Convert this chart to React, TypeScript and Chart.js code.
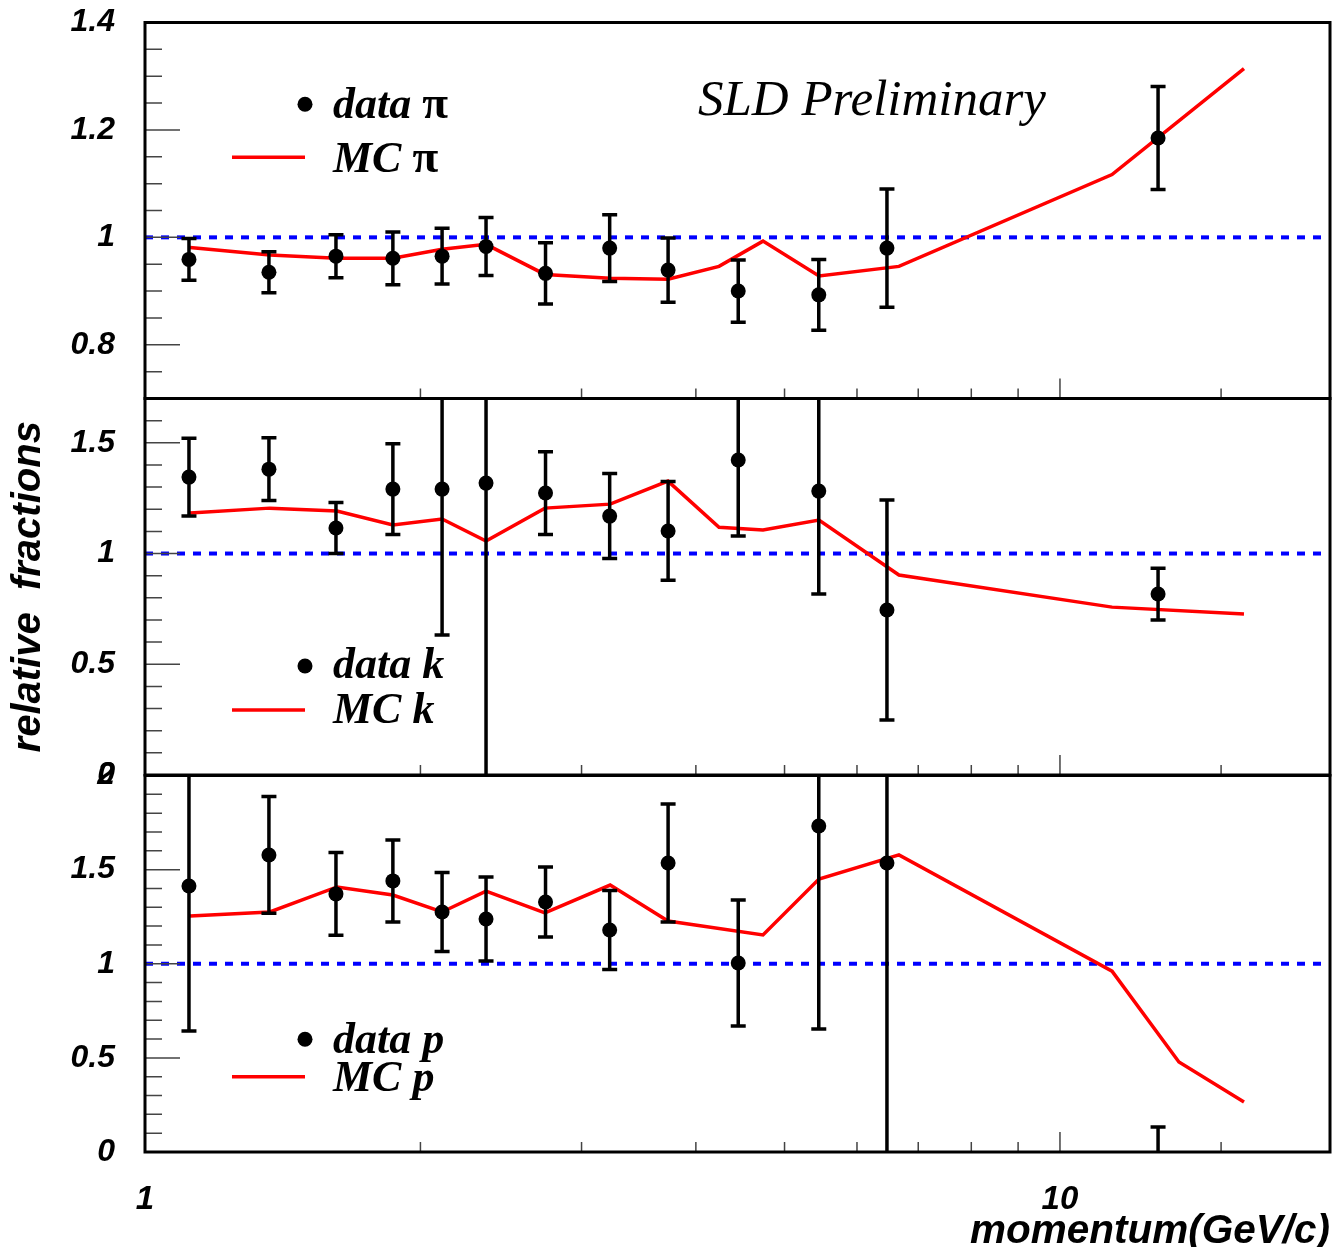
import React, { useEffect, useRef } from 'react';
import { Chart, registerables } from 'chart.js';

Chart.register(...registerables);

const W = 1335;
const H = 1247;
const X_MIN = 1;
const X_MAX = 19.73;

// ---- data ----
const dataMomentum = [1.117, 1.366, 1.617, 1.866, 2.112, 2.359, 2.74, 3.22, 3.73, 4.45, 5.45, 6.47, 12.8];
const mcMomentumPiK = [1.12, 1.369, 1.621, 1.866, 2.112, 2.359, 2.736, 3.224, 3.729, 4.24, 4.736, 5.453, 6.668, 11.4, 15.89];
const mcMomentumP = [1.12, 1.369, 1.621, 1.866, 2.112, 2.359, 2.736, 3.224, 3.729, 4.736, 5.453, 6.668, 11.4, 13.49, 15.89];

const piData = [0.959, 0.935, 0.965, 0.961, 0.965, 0.983, 0.933, 0.98, 0.939, 0.9, 0.893, 0.98, 1.185];
const piErr = [0.039, 0.038, 0.04, 0.049, 0.052, 0.054, 0.057, 0.062, 0.06, 0.058, 0.066, 0.11, 0.096];
const piMC = [0.981, 0.967, 0.961, 0.961, 0.978, 0.987, 0.931, 0.924, 0.922, 0.946, 0.993, 0.928, 0.946, 1.117, 1.314];

const kData = [1.345, 1.381, 1.115, 1.291, 1.291, 1.318, 1.273, 1.169, 1.102, 1.422, 1.282, 0.745, 0.817];
const kErr = [0.176, 0.142, 0.115, 0.205, 0.659, 1.5, 0.187, 0.192, 0.223, 0.343, 0.465, 0.497, 0.117];
const kMC = [1.183, 1.205, 1.192, 1.129, 1.156, 1.056, 1.205, 1.223, 1.327, 1.119, 1.106, 1.151, 0.903, 0.758, 0.727];

const pData = [1.413, 1.578, 1.371, 1.44, 1.275, 1.238, 1.328, 1.179, 1.535, 1.004, 1.732, 1.535, -0.1];
const pErr = [0.77, 0.31, 0.22, 0.218, 0.21, 0.223, 0.186, 0.21, 0.313, 0.335, 1.079, 2.0, 0.233];
const pMC = [1.254, 1.275, 1.408, 1.365, 1.275, 1.386, 1.27, 1.418, 1.227, 1.153, 1.45, 1.578, 0.961, 0.478, 0.266];

const unityLine = [1, 1];

const piMajorTicks = [0.8, 1, 1.2, 1.4];
const kMajorTicks = [0, 0.5, 1, 1.5];
const pMajorTicks = [0, 0.5, 1, 1.5, 2];
const xLabelTicks = [1, 10];

// ---- layout / styling of the three panels ----
const PLOT_LEFT = 145;
const PLOT_RIGHT = 1330;

type Panel = {
  top: number;
  bottom: number;
  yMin: number;
  yMax: number;
  minorStep: number;
  majors: number[];
  values: number[];
  errors: number[];
  mcX: number[];
  mc: number[];
  dataLabel: string;
  mcLabel: string;
  legend: { dotY: number; dataBase: number; lineY: number; mcBase: number };
  showX: boolean;
  xAxisHeight: number;
  yTitle: boolean;
  note?: boolean;
};

const panels: Panel[] = [
  {
    top: 22.5, bottom: 398.5, yMin: 0.7, yMax: 1.4, minorStep: 0.05, majors: piMajorTicks,
    values: piData, errors: piErr, mcX: mcMomentumPiK, mc: piMC,
    dataLabel: 'data π', mcLabel: 'MC π',
    legend: { dotY: 104.3, dataBase: 118.3, lineY: 157.3, mcBase: 171.7 },
    showX: false, xAxisHeight: 30, yTitle: false, note: true,
  },
  {
    top: 398.5, bottom: 775, yMin: 0, yMax: 1.7, minorStep: 0.1, majors: kMajorTicks,
    values: kData, errors: kErr, mcX: mcMomentumPiK, mc: kMC,
    dataLabel: 'data k', mcLabel: 'MC k',
    legend: { dotY: 666, dataBase: 678.3, lineY: 710, mcBase: 723.3 },
    showX: false, xAxisHeight: 30, yTitle: true,
  },
  {
    top: 775.5, bottom: 1152, yMin: 0, yMax: 2, minorStep: 0.1, majors: pMajorTicks,
    values: pData, errors: pErr, mcX: mcMomentumP, mc: pMC,
    dataLabel: 'data p', mcLabel: 'MC p',
    legend: { dotY: 1039.3, dataBase: 1052.7, lineY: 1076.7, mcBase: 1090.7 },
    showX: true, xAxisHeight: 95, yTitle: false,
  },
];

const sansBoldItalic = (size: number) => ({ family: '"Liberation Sans", Arial, sans-serif', size, style: 'italic' as const, weight: 'bold' as const });

const isMajor = (v: number, majors: number[]) => majors.some((m) => Math.abs(m - v) < 1e-6);

const zeroPadding = (s: any) => {
  s.paddingTop = 0;
  s.paddingBottom = 0;
  s.paddingLeft = 0;
  s.paddingRight = 0;
};

function makeDecoPlugin(p: Panel) {
  return {
    id: 'panelDeco',
    beforeDatasetDraw(chart: any, args: any) {
      if (args.index !== 0) return;
      const { ctx, chartArea: ca } = chart;
      const xs = chart.scales.x;
      const ys = chart.scales.y;
      const ds = chart.data.datasets[0];
      ctx.save();
      ctx.beginPath();
      ctx.rect(ca.left, ca.top, ca.right - ca.left, ca.bottom - ca.top);
      ctx.clip();
      ctx.strokeStyle = '#000';
      ctx.lineWidth = 3.5;
      ds.data.forEach((pt: any, i: number) => {
        const e = p.errors[i];
        const px = xs.getPixelForValue(pt.x);
        const yUp = ys.getPixelForValue(pt.y + e);
        const yLo = ys.getPixelForValue(pt.y - e);
        ctx.beginPath();
        ctx.moveTo(px, yUp);
        ctx.lineTo(px, yLo);
        ctx.moveTo(px - 7.5, yUp);
        ctx.lineTo(px + 7.5, yUp);
        ctx.moveTo(px - 7.5, yLo);
        ctx.lineTo(px + 7.5, yLo);
        ctx.stroke();
      });
      ctx.restore();
    },
    afterDatasetsDraw(chart: any) {
      const { ctx, chartArea: ca } = chart;
      const xs = chart.scales.x;
      const ys = chart.scales.y;
      ctx.save();
      ctx.strokeStyle = '#444';
      ctx.lineWidth = 1.5;
      ctx.beginPath();
      ys.ticks.forEach((t: any) => {
        const py = ys.getPixelForValue(t.value);
        const len = isMajor(t.value, p.majors) ? 35 : 17;
        ctx.moveTo(ca.left, py);
        ctx.lineTo(ca.left + len, py);
      });
      xs.ticks.forEach((t: any) => {
        const px = xs.getPixelForValue(t.value);
        if (px <= ca.left + 1 || px >= ca.right - 1) return;
        const lg = Math.log10(t.value);
        const len = Math.abs(lg - Math.round(lg)) < 1e-6 ? 20 : 10;
        ctx.moveTo(px, ca.bottom);
        ctx.lineTo(px, ca.bottom - len);
      });
      ctx.stroke();
      ctx.strokeStyle = '#000';
      ctx.lineWidth = 3;
      ctx.strokeRect(ca.left, ca.top, ca.right - ca.left, ca.bottom - ca.top);
      ctx.restore();
    },
    afterDraw(chart: any) {
      const { ctx } = chart;
      const dsData = chart.data.datasets[0];
      const dsMC = chart.data.datasets[1];
      const L = p.legend;
      ctx.save();
      ctx.fillStyle = dsData.pointBackgroundColor;
      ctx.beginPath();
      ctx.arc(305, L.dotY, 7.5, 0, Math.PI * 2);
      ctx.fill();
      ctx.strokeStyle = dsMC.borderColor;
      ctx.lineWidth = 3.5;
      ctx.beginPath();
      ctx.moveTo(232, L.lineY);
      ctx.lineTo(305, L.lineY);
      ctx.stroke();
      const drawLabel = (text: string, x: number, base: number) => {
        ctx.fillStyle = '#000';
        ctx.textBaseline = 'alphabetic';
        ctx.textAlign = 'left';
        const last = text.slice(-1);
        if (last === 'π') {
          const head = text.slice(0, -1);
          ctx.font = 'italic bold 44px "Liberation Serif", "Times New Roman", serif';
          ctx.fillText(head, x, base);
          const w = ctx.measureText(head).width;
          ctx.font = 'bold 47px "Liberation Serif", "Times New Roman", serif';
          ctx.fillText(last, x + w, base);
        } else {
          ctx.font = 'italic bold 44px "Liberation Serif", "Times New Roman", serif';
          ctx.fillText(text, x, base);
        }
      };
      drawLabel(dsData.label, 333, L.dataBase);
      drawLabel(dsMC.label, 333, L.mcBase);
      if (p.note) {
        ctx.fillStyle = '#000';
        ctx.font = 'italic 51px "Liberation Serif", "Times New Roman", serif';
        ctx.textAlign = 'left';
        ctx.textBaseline = 'alphabetic';
        ctx.fillText('SLD Preliminary', 698, 115);
      }
      ctx.restore();
    },
  };
}

function buildConfig(p: Panel): any {
  return {
    type: 'scatter',
    data: {
      datasets: [
        {
          label: p.dataLabel,
          data: dataMomentum.map((x, i) => ({ x, y: p.values[i] })),
          showLine: false,
          pointRadius: 7.5,
          pointHoverRadius: 7.5,
          pointBackgroundColor: '#000000',
          pointBorderWidth: 0,
          clip: 0,
        },
        {
          label: p.mcLabel,
          data: p.mcX.map((x, i) => ({ x, y: p.mc[i] })),
          showLine: true,
          borderColor: '#ff0000',
          borderWidth: 3.5,
          pointRadius: 0,
          tension: 0,
          fill: false,
        },
        {
          label: 'unity',
          data: [
            { x: X_MIN, y: unityLine[0] },
            { x: X_MAX, y: unityLine[1] },
          ],
          showLine: true,
          borderColor: '#0000ff',
          borderWidth: 4,
          borderDash: [8, 8],
          pointRadius: 0,
          fill: false,
        },
      ],
    },
    options: {
      responsive: false,
      maintainAspectRatio: false,
      animation: false,
      devicePixelRatio: 1,
      events: [],
      layout: {
        autoPadding: false,
        padding: {
          top: p.top,
          left: 0,
          right: W - PLOT_RIGHT,
          bottom: H - p.bottom - p.xAxisHeight,
        },
      },
      plugins: {
        legend: { display: false },
        tooltip: { enabled: false },
      },
      scales: {
        x: {
          type: 'logarithmic',
          min: X_MIN,
          max: X_MAX,
          border: { display: false },
          grid: { display: false, drawTicks: false, tickLength: 0 },
          ticks: {
            display: p.showX,
            autoSkip: false,
            maxRotation: 0,
            minRotation: 0,
            padding: 28,
            color: '#000',
            font: sansBoldItalic(33),
            callback: (v: number) => (xLabelTicks.includes(v) ? String(v) : ''),
          },
          title: {
            display: p.showX,
            text: 'momentum(GeV/c)',
            align: 'end',
            color: '#000',
            font: { ...sansBoldItalic(40.5), lineHeight: 0.75 },
            padding: 0,
          },
          afterFit: (s: any) => {
            s.height = p.xAxisHeight;
            zeroPadding(s);
          },
        },
        y: {
          min: p.yMin,
          max: p.yMax,
          border: { display: false },
          grid: { display: false, drawTicks: false, tickLength: 0 },
          ticks: {
            stepSize: p.minorStep,
            autoSkip: false,
            includeBounds: false,
            padding: 30,
            color: '#000',
            font: sansBoldItalic(32),
            callback: (v: number) => (isMajor(v, p.majors) ? String(Math.round(v * 100) / 100) : ''),
          },
          title: {
            display: p.yTitle,
            text: 'relative  fractions',
            color: '#000',
            font: sansBoldItalic(40),
            padding: { top: 5, bottom: 0 },
          },
          afterFit: (s: any) => {
            s.width = PLOT_LEFT;
            zeroPadding(s);
          },
        },
      },
    },
    plugins: [makeDecoPlugin(p)],
  };
}

export default function App() {
  const r0 = useRef<HTMLCanvasElement>(null);
  const r1 = useRef<HTMLCanvasElement>(null);
  const r2 = useRef<HTMLCanvasElement>(null);

  useEffect(() => {
    const refs = [r0, r1, r2];
    const charts = refs.map((r, i) => new Chart(r.current as HTMLCanvasElement, buildConfig(panels[i])));
    return () => charts.forEach((c) => c.destroy());
  }, []);

  const cStyle: React.CSSProperties = { position: 'absolute', left: 0, top: 0, width: W, height: H };
  return (
    <div style={{ position: 'absolute', left: 0, top: 0, width: W, height: H, background: '#ffffff', overflow: 'hidden' }}>
      <canvas ref={r0} width={W} height={H} style={cStyle} />
      <canvas ref={r1} width={W} height={H} style={cStyle} />
      <canvas ref={r2} width={W} height={H} style={cStyle} />
    </div>
  );
}
